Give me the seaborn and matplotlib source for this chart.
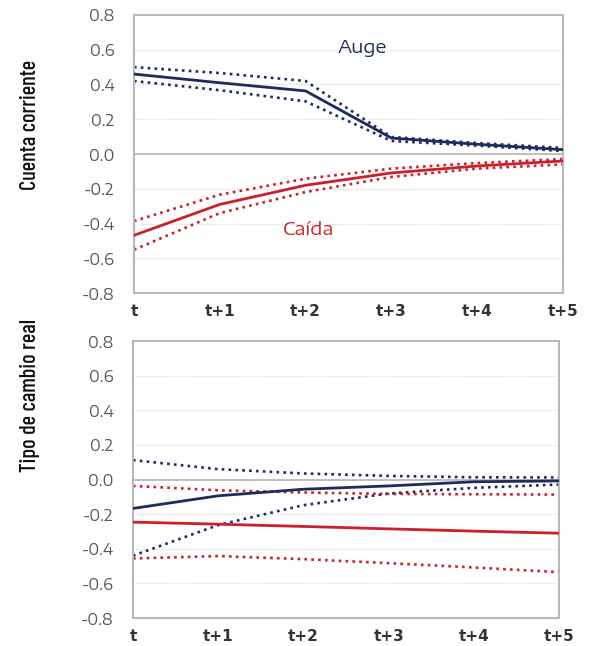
import matplotlib
matplotlib.use("Agg")
import matplotlib.pyplot as plt
from matplotlib import font_manager
import seaborn as sns
import pandas as pd

periods = ["t", "t+1", "t+2", "t+3", "t+4", "t+5"]

# Panel 1: Cuenta corriente
cc_auge = [0.46, 0.41, 0.363, 0.092, 0.056, 0.025]
cc_auge_hi = [0.50, 0.466, 0.42, 0.098, 0.063, 0.035]
cc_auge_lo = [0.42, 0.367, 0.303, 0.075, 0.048, 0.017]
cc_caida = [-0.468, -0.29, -0.18, -0.109, -0.069, -0.04]
cc_caida_hi = [-0.386, -0.234, -0.142, -0.084, -0.052, -0.029]
cc_caida_lo = [-0.551, -0.34, -0.219, -0.132, -0.084, -0.06]

# Panel 2: Tipo de cambio real
tc_auge = [-0.167, -0.094, -0.056, -0.037, -0.013, -0.008]
tc_auge_hi = [0.112, 0.06, 0.035, 0.021, 0.013, 0.012]
tc_auge_lo = [-0.44, -0.263, -0.148, -0.081, -0.048, -0.029]
tc_caida = [-0.246, -0.258, -0.271, -0.285, -0.298, -0.31]
tc_caida_hi = [-0.037, -0.062, -0.075, -0.083, -0.085, -0.087]
tc_caida_lo = [-0.456, -0.442, -0.46, -0.483, -0.508, -0.535]

yticks = [0.8, 0.6, 0.4, 0.2, 0.0, -0.2, -0.4, -0.6, -0.8]
ylabels = ["Cuenta corriente", "Tipo de cambio real"]
series_labels = ["Auge", "Caída"]

NAVY = "#1f2a5e"
RED = "#cc1f2b"
GRID = "#cfcfcf"

sns.set_style("white")
names = {f.name for f in font_manager.fontManager.ttflist}

def pick(cands):
    for c in cands:
        if c in names:
            return c
    return "DejaVu Sans"

WIDE = pick(["Encode Sans Expanded", "Encode Sans Semi Expanded", "DejaVu Sans"])
NARROW = pick(["Barlow Condensed", "Barlow Semi Condensed", "Archivo Narrow", "DejaVu Sans"])
plt.rcParams["font.family"] = [WIDE, "DejaVu Sans"]

fig = plt.figure(figsize=(5.91, 6.46), dpi=100)
ax1 = fig.add_axes([0.2267, 0.5464, 0.7259, 0.4304])
ax2 = fig.add_axes([0.2250, 0.0433, 0.7210, 0.4288])

def build(series):
    rows = []
    for name, vals in series.items():
        for i, v in enumerate(vals):
            rows.append({"x": i, "y": v, "s": name})
    return pd.DataFrame(rows)

def draw(ax, auge, auge_hi, auge_lo, caida, caida_hi, caida_lo):
    df = build({"auge": auge, "auge_hi": auge_hi, "auge_lo": auge_lo,
                "caida": caida, "caida_hi": caida_hi, "caida_lo": caida_lo})
    for v in yticks:
        if abs(v) < 1e-9:
            ax.axhline(v, color="#b4b4b4", lw=1.2, zorder=1)
        elif abs(abs(v) - 0.8) > 1e-9:
            ax.axhline(v, color=GRID, lw=0.8, ls=(0, (1, 1.5)), zorder=1)
    pal = {"auge": NAVY, "auge_hi": NAVY, "auge_lo": NAVY,
           "caida": RED, "caida_hi": RED, "caida_lo": RED}
    solid = df[df.s.isin(["auge", "caida"])]
    dotted = df[~df.s.isin(["auge", "caida"])]
    sns.lineplot(data=solid, x="x", y="y", hue="s", palette=pal, ax=ax,
                 lw=2.0, legend=False, zorder=3)
    sns.lineplot(data=dotted, x="x", y="y", hue="s", palette=pal, ax=ax,
                 lw=1.9, legend=False, zorder=2)
    for ln in ax.lines[-4:]:
        ln.set_linestyle((0, (1, 1.6)))
    ax.set_xlim(0, 5)
    ax.set_ylim(-0.8, 0.8)
    ax.set_xticks(range(len(periods)))
    ax.set_xticklabels(periods)
    ax.set_yticks(yticks)
    ax.set_yticklabels([f"{v:.1f}" for v in yticks])
    ax.set_xlabel("")
    ax.set_ylabel("")
    ax.tick_params(axis="y", length=0, pad=14, labelsize=11, labelcolor="#555555")
    ax.tick_params(axis="x", length=0, pad=8, labelsize=11, labelcolor="#333333")
    for lab in ax.get_xticklabels():
        lab.set_fontweight("bold")
        lab.set_family(["DejaVu Sans"])
    for sp in ax.spines.values():
        sp.set_color("#b8b8b8")
        sp.set_linewidth(1.5)

draw(ax1, cc_auge, cc_auge_hi, cc_auge_lo, cc_caida, cc_caida_hi, cc_caida_lo)
draw(ax2, tc_auge, tc_auge_hi, tc_auge_lo, tc_caida, tc_caida_hi, tc_caida_lo)

ax1.text(2.66, 0.61, series_labels[0], color=NAVY, fontsize=13.5, ha="center", va="center")
ax1.text(2.03, -0.44, series_labels[1], color=RED, fontsize=13.5, ha="center", va="center")

fig.text(30 / 591, 1 - 125 / 646, ylabels[0], rotation=90, ha="center", va="center",
         fontsize=16, fontweight="medium", family=[NARROW, "DejaVu Sans"], color="#111111")
fig.text(30 / 591, 1 - 395 / 646, ylabels[1], rotation=90, ha="center", va="center",
         fontsize=16, fontweight="medium", family=[NARROW, "DejaVu Sans"], color="#111111")

fig.savefig("out.png", dpi=100)
